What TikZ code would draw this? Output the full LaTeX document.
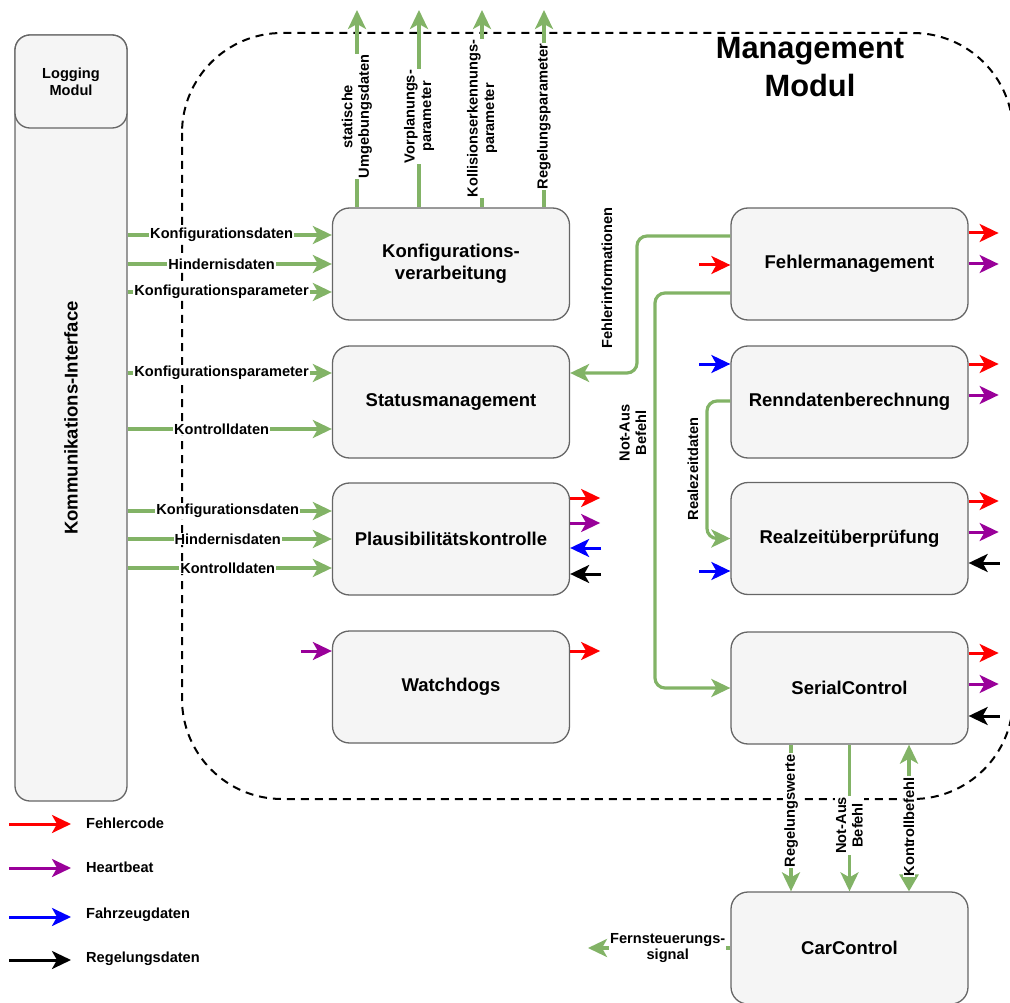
\documentclass[tikz,border=0pt]{standalone}
\usepackage{fontspec}
\setmainfont{Liberation Sans}
\usetikzlibrary{arrows.meta}
\definecolor{grn}{HTML}{82B366}
\definecolor{boxfill}{HTML}{F5F5F5}
\definecolor{boxline}{HTML}{666666}
\definecolor{purp}{HTML}{990099}
\newcommand\boxfont{\bfseries\fontsize{18.5pt}{22pt}\selectfont}
\newcommand\lblfont{\bfseries\fontsize{14.6pt}{16.5pt}\selectfont}
\newcommand\titlefont{\bfseries\fontsize{30.8pt}{38pt}\selectfont}
\begin{document}
\begin{tikzpicture}[x=1pt,y=-1pt,
  >={Stealth[length=19pt,width=18pt,inset=5pt]},
  box/.style={draw=boxline, fill=boxfill, line width=1.3pt, rounded corners=17pt,
    minimum width=237pt, minimum height=112pt, font=\boxfont, align=center},
  flow/.style={draw=grn, line width=3.2pt, ->},
  sig/.style={line width=3pt, ->},
  lbl/.style={fill=white, inner sep=1pt, font=\lblfont, text=black, align=center},
  legendtext/.style={anchor=west, font=\lblfont, inner sep=0pt}]
\useasboundingbox (0,0) rectangle (1010,1003);
\clip (0,0) rectangle (1010,1003);

% Management module boundary
\draw[line width=2pt, dash pattern=on 8pt off 6pt, rounded corners=100pt]
  (182,33) rectangle (1013,799);
\node[font=\titlefont, align=center] (title) at (810,67) {Management\\Modul};

% Communication interface and logging module
\node[draw=boxline, fill=boxfill, line width=1.3pt, rounded corners=15pt,
  minimum width=112pt, minimum height=766pt] (ki) at (71,418) {};
\node[rotate=90, font=\boxfont] (kitext) at (71,418) {Kommunikations-Interface};
\node[draw=boxline, fill=boxfill, line width=1.3pt, rounded corners=15pt,
  minimum width=112pt, minimum height=93pt, align=center,
  font=\bfseries\fontsize{14.6pt}{17pt}\selectfont] (log) at (71,81.5) {Logging\\Modul};

% Function blocks
\node[box] (konf)     at (451,264)    {Konfigurations-\\verarbeitung};
\node[box] (status)   at (451,402)    {Statusmanagement};
\node[box] (plaus)    at (451,539)    {Plausibilitätskontrolle};
\node[box] (watch)    at (451,687)    {Watchdogs};
\node[box] (fehler)   at (849.5,264)  {Fehlermanagement};
\node[box] (renn)     at (849.5,402)  {Renndatenberechnung};
\node[box] (realzeit) at (849.5,538.5){Realzeitüberprüfung};
\node[box] (serial)   at (849.5,688)  {SerialControl};
\node[box] (car)      at (849.5,948)  {CarControl};

% Inputs from the communication interface
\coordinate (k1) at ([yshift=29pt]konf.west);
\coordinate (k2) at ([yshift=0pt]konf.west);
\coordinate (k3) at ([yshift=-28pt]konf.west);
\coordinate (s1) at ([yshift=29pt]status.west);
\coordinate (s2) at ([yshift=-27pt]status.west);
\coordinate (p1) at ([yshift=28pt]plaus.west);
\coordinate (p2) at ([yshift=0pt]plaus.west);
\coordinate (p3) at ([yshift=-29pt]plaus.west);
\draw[flow] (ki.east |- k1) -- node[lbl, pos=0.46] {Konfigurationsdaten} (k1);
\draw[flow] (ki.east |- k2) -- node[lbl, pos=0.46] {Hindernisdaten} (k2);
\draw[flow] (ki.east |- k3) -- node[lbl, pos=0.46] {Konfigurationsparameter} (k3);
\draw[flow] (ki.east |- s1) -- node[lbl, pos=0.46] {Konfigurationsparameter} (s1);
\draw[flow] (ki.east |- s2) -- node[lbl, pos=0.46] {Kontrolldaten} (s2);
\draw[flow] (ki.east |- p1) -- node[lbl, pos=0.49] {Konfigurationsdaten} (p1);
\draw[flow] (ki.east |- p2) -- node[lbl, pos=0.49] {Hindernisdaten} (p2);
\draw[flow] (ki.east |- p3) -- node[lbl, pos=0.49] {Kontrolldaten} (p3);

% Outputs of the configuration processing
\coordinate (up1) at (357,10);
\coordinate (up2) at (419,10);
\coordinate (up3) at (482,10);
\coordinate (up4) at (544,10);
\draw[flow] (konf.north -| up1) -- node[lbl, rotate=90, pos=0.46] {statische\\Umgebungsdaten} (up1);
\draw[flow] (konf.north -| up2) -- node[lbl, rotate=90, pos=0.46] {Vorplanungs-\\parameter} (up2);
\draw[flow] (konf.north -| up3) -- node[lbl, rotate=90, pos=0.45] {Kollisionserkennungs-\\parameter} (up3);
\draw[flow] (konf.north -| up4) -- node[lbl, rotate=90, pos=0.46] {Regelungsparameter} (up4);

% Internal links
\coordinate (fi) at (637,300);
\coordinate (na) at (655,500);
\coordinate (rz) at (707,470);
\draw[flow, rounded corners=10pt] ([yshift=28pt]fehler.west) -| (fi) |- ([yshift=29pt]status.east);
\node[rotate=90, font=\lblfont] (fitext) at (607,278) {Fehlerinformationen};
\draw[flow, rounded corners=10pt] ([yshift=-29pt]fehler.west) -| (na) |- (serial.west);
\node[rotate=90, font=\lblfont, align=center] (natext) at (633,433) {Not-Aus\\Befehl};
\draw[flow, rounded corners=10pt] ([yshift=1pt]renn.west) -| (rz) |- (realzeit.west);
\node[rotate=90, font=\lblfont] (rztext) at (693,469) {Realezeitdaten};

% SerialControl to CarControl
\draw[flow] ([xshift=-58.5pt]serial.south) -- node[lbl, rotate=90, pos=0.45] {Regelungswerte} ([xshift=-58.5pt]car.north);
\draw[flow] (serial.south) -- node[lbl, rotate=90, pos=0.55] {Not-Aus\\Befehl} (car.north);
\draw[flow, {Triangle[length=17pt,width=19pt]}->] ([xshift=59.5pt]car.north) -- node[lbl, rotate=90, pos=0.44] {Kontrollbefehl} ([xshift=59.5pt]serial.south);
\coordinate (fs) at (588,948);
\draw[flow] (car.west) -- node[lbl, pos=0.44] {Fernsteuerungs-\\signal} (fs);

% Signal stubs: Plausibilitaetskontrolle
\draw[sig, draw=red]   ([yshift=41pt]plaus.east) -- ++(30,0);
\draw[sig, draw=purp]  ([yshift=16pt]plaus.east) -- ++(30,0);
\draw[sig, draw=blue]  ([xshift=31pt,yshift=-9pt]plaus.east) -- ([yshift=-9pt]plaus.east);
\draw[sig, draw=black] ([xshift=31pt,yshift=-35pt]plaus.east) -- ([yshift=-35pt]plaus.east);
% Watchdogs
\draw[sig, draw=purp]  ([xshift=-31pt,yshift=36pt]watch.west) -- ([yshift=36pt]watch.west);
\draw[sig, draw=red]   ([yshift=36pt]watch.east) -- ++(30,0);
% Fehlermanagement
\draw[sig, draw=red]   ([xshift=-31pt,yshift=-1pt]fehler.west) -- ([yshift=-1pt]fehler.west);
\draw[sig, draw=red]   ([yshift=31pt]fehler.east) -- ++(30,0);
\draw[sig, draw=purp]  ([yshift=0pt]fehler.east) -- ++(30,0);
% Renndatenberechnung
\draw[sig, draw=blue]  ([xshift=-31pt,yshift=38pt]renn.west) -- ([yshift=38pt]renn.west);
\draw[sig, draw=red]   ([yshift=38pt]renn.east) -- ++(30,0);
\draw[sig, draw=purp]  ([yshift=7pt]renn.east) -- ++(30,0);
% Realzeitueberpruefung
\draw[sig, draw=red]   ([yshift=37.5pt]realzeit.east) -- ++(30,0);
\draw[sig, draw=purp]  ([yshift=6.5pt]realzeit.east) -- ++(30,0);
\draw[sig, draw=black] ([xshift=31pt,yshift=-24.5pt]realzeit.east) -- ([yshift=-24.5pt]realzeit.east);
\draw[sig, draw=blue]  ([xshift=-31pt,yshift=-32.5pt]realzeit.west) -- ([yshift=-32.5pt]realzeit.west);
% SerialControl
\draw[sig, draw=red]   ([yshift=35pt]serial.east) -- ++(30,0);
\draw[sig, draw=purp]  ([yshift=4pt]serial.east) -- ++(30,0);
\draw[sig, draw=black] ([xshift=31pt,yshift=-28pt]serial.east) -- ([yshift=-28pt]serial.east);

% Legend
\coordinate (lg1) at (9,824);  \coordinate (lg1e) at (71,824);
\coordinate (lg2) at (9,868);  \coordinate (lg2e) at (71,868);
\coordinate (lg3) at (9,917);  \coordinate (lg3e) at (71,917);
\coordinate (lg4) at (9,960);  \coordinate (lg4e) at (71,960);
\draw[sig, draw=red]   (lg1) -- (lg1e);
\draw[sig, draw=purp]  (lg2) -- (lg2e);
\draw[sig, draw=blue]  (lg3) -- (lg3e);
\draw[sig, draw=black] (lg4) -- (lg4e);
\node[legendtext] (lt1) at (86,823) {Fehlercode};
\node[legendtext] (lt2) at (86,867) {Heartbeat};
\node[legendtext] (lt3) at (86,915) {Fahrzeugdaten};
\node[legendtext] (lt4) at (86,959) {Regelungsdaten};
\end{tikzpicture}
\end{document}
